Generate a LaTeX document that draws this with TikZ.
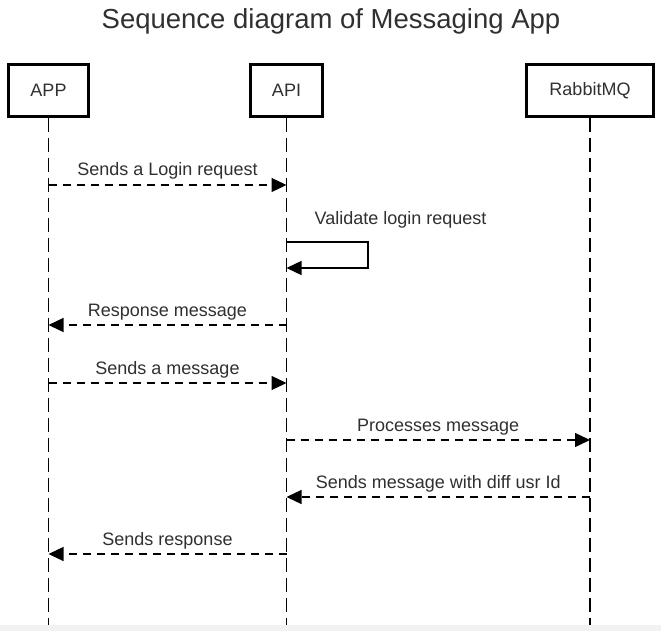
\documentclass[tikz,border=0pt]{standalone}
\usepackage{fontspec}
\setmainfont{Liberation Sans}
\usepackage{xcolor}
\usetikzlibrary{arrows.meta}
\definecolor{stripgray}{HTML}{F2F2F2}
\definecolor{textgray}{HTML}{303030}

\begin{document}
\begin{tikzpicture}[x=1pt, y=-1pt,
  box/.style={draw, line width=2.7pt, inner sep=0pt, minimum height=52pt, text=textgray, font=\fontsize{18}{20}\selectfont},
  life/.style={line width=1.3pt, dash pattern=on 14pt off 6pt},
  msg/.style={line width=1.3pt, dash pattern=on 8pt off 6pt, -{Triangle[length=15pt, width=14pt]}},
  selfmsg/.style={line width=1.3pt, -{Triangle[length=15pt, width=14pt]}},
  lbl/.style={font=\fontsize{18}{20}\selectfont, text=textgray, inner sep=0pt, anchor=base, yshift=9pt}]
\fill[white] (0,0) rectangle (661,631);
\useasboundingbox (0,0) rectangle (661,631);
\fill[stripgray] (0,625) rectangle (661,631);

\node[anchor=base, inner sep=0pt, text=textgray, font=\fontsize{27.5}{30}\selectfont] (title) at (331,29) {Sequence diagram of Messaging App};

\node[box, minimum width=80pt] (app) at (48.5,90.5) {APP};
\node[box, minimum width=72pt] (api) at (286.5,90.5) {API};
\node[box, minimum width=127pt] (mq) at (590,90.5) {RabbitMQ};

% lifelines
\coordinate (append) at (app |- 0,625);
\coordinate (apiend) at (api |- 0,625);
\coordinate (mqend) at (mq |- 0,625);
\path[draw, life] (app.south) -- (append);
\path[draw, life] (api.south) -- (apiend);
\path[draw, life] (mq.south) -- (mqend);

% messages
\path[draw, msg] (app |- 0,185) -- node[lbl] {Sends a Login request} (api |- 0,185);
\path[draw, selfmsg] (api |- 0,242) -- ++(81.5,0) |- (api |- 0,268);
\node[lbl, yshift=0pt] (validate) at (400.5,233) {Validate login request};
\path[draw, msg] (api |- 0,325) -- node[lbl] {Response message} (app |- 0,325);
\path[draw, msg] (app |- 0,383) -- node[lbl] {Sends a message} (api |- 0,383);
\path[draw, msg] (api |- 0,440) -- node[lbl] {Processes message} (mq |- 0,440);
\path[draw, msg] (mq |- 0,497) -- node[lbl] {Sends message with diff usr Id} (api |- 0,497);
\path[draw, msg] (api |- 0,554) -- node[lbl] {Sends response} (app |- 0,554);
\end{tikzpicture}
\end{document}
